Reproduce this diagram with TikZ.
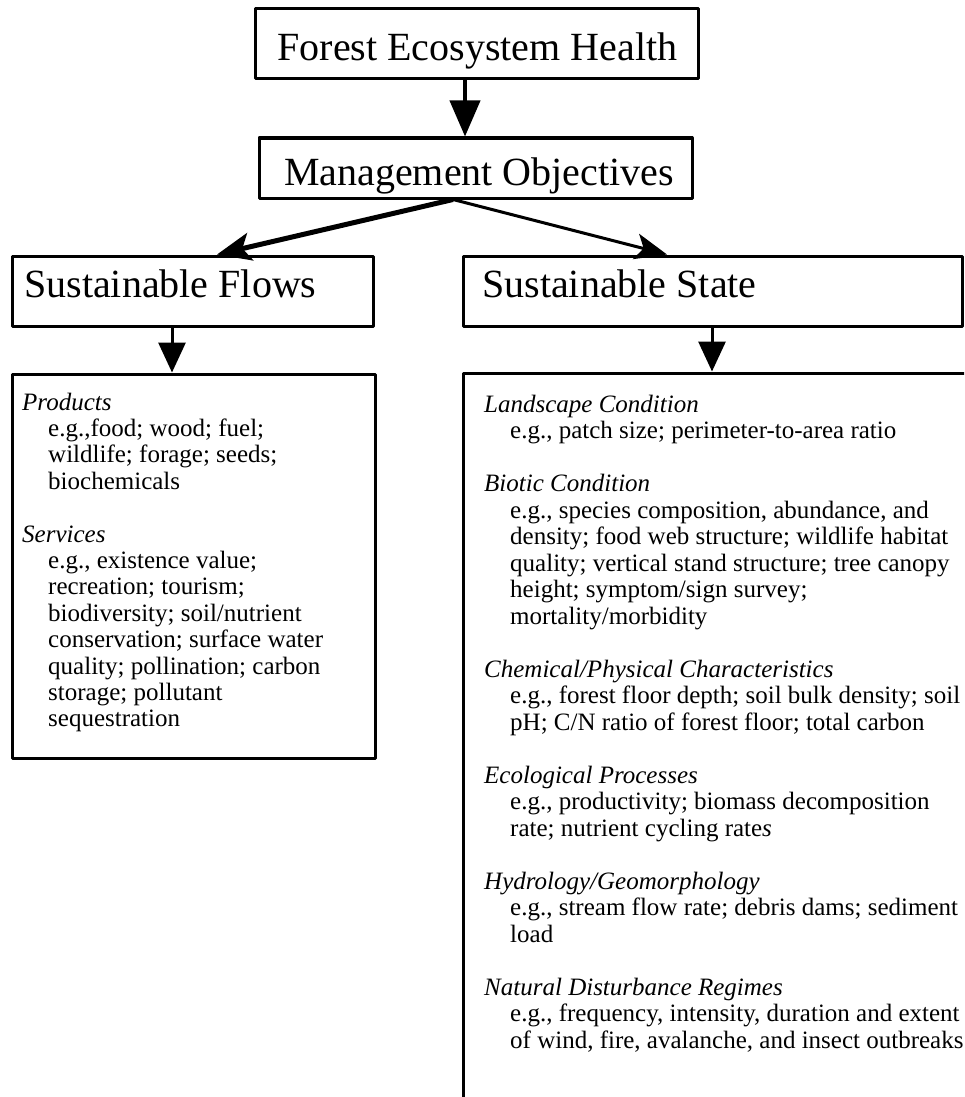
\documentclass[tikz,border=0pt]{standalone}
\usepackage{fontspec}
\setmainfont{Liberation Serif}
\usetikzlibrary{arrows.meta}
\begin{document}
\begin{tikzpicture}[x=1pt,y=-1pt,
  box/.style={draw, line width=3pt, line join=round, inner sep=0pt, fill=none},
  hd/.style={inner sep=0pt, font=\fontsize{40}{44}\selectfont},
  bt/.style={inner sep=0pt, anchor=base west, font=\fontsize{25}{26.5}\selectfont},
  it/.style={bt, font=\fontsize{25}{26.5}\selectfont\itshape},
  downarr/.style={line width=3pt, -{Triangle[length=30pt,width=27pt]}},
  toparr/.style={line width=4pt, -{Triangle[length=36pt,width=30pt]}},
  leftarr/.style={line width=5pt, -{Stealth[length=34pt,width=28pt,inset=8pt]}},
  rightarr/.style={line width=3pt, -{Stealth[length=32pt,width=26pt,inset=8pt]}}
]
\useasboundingbox (0,0) rectangle (964,1097);
\fill[white] (0,0) rectangle (964,1097);

% boxes
\node[box, minimum width=443pt, minimum height=70pt] (feh) at (476.5,44) {};
\node[box, minimum width=433pt, minimum height=60pt] (mo) at (475.5,168) {};
\node[box, minimum width=361pt, minimum height=70pt] (sf) at (192.5,291) {};
\node[box, minimum width=499pt, minimum height=70pt] (ss) at (712.5,291) {};
\node[box, minimum width=363pt, minimum height=384pt] (fd) at (193.5,566) {};
\begin{scope}
\clip (0,0) rectangle (964,1097);
\node[box, minimum width=537pt, minimum height=767pt] (sd) at (731.5,756.5) {};
\end{scope}

% heading texts
\node[hd, anchor=base] (tfeh) at (477.5,61) {Forest Ecosystem Health};
\node[hd, anchor=base] (tmo) at (479,185) {Management Objectives};
\node[hd, anchor=base west] (tsf) at (24,297) {Sustainable Flows};
\node[hd, anchor=base west] (tss) at (482,297) {Sustainable State};

% connectors
\draw[toparr] ([xshift=-11.5pt]feh.south) -- ([xshift=-10.5pt]mo.north);
\draw[leftarr] ([xshift=-22.5pt]mo.south) -- ([xshift=24.5pt]sf.north);
\draw[rightarr] ([xshift=-22.5pt]mo.south) -- ([xshift=-45.5pt]ss.north);
\draw[downarr] ([xshift=-20.5pt]sf.south) -- ([xshift=-21.5pt]fd.north);
\draw[downarr] ([xshift=-0.5pt]ss.south) -- ([xshift=-19.5pt]sd.north);

% left detail text
\node[it] (p0) at (22,410) {Products};
\node[bt] (p1) at (48,436.4) {e.g.,food; wood; fuel;};
\node[bt] (p2) at (48,462.8) {wildlife; forage; seeds;};
\node[bt] (p3) at (48,489.2) {biochemicals};
\node[it] (s0) at (22,542) {Services};
\node[bt] (s1) at (48,568.4) {e.g., existence value;};
\node[bt] (s2) at (48,594.8) {recreation; tourism;};
\node[bt] (s3) at (48,621.2) {biodiversity; soil/nutrient};
\node[bt] (s4) at (48,647.6) {conservation; surface water};
\node[bt] (s5) at (48,674) {quality; pollination; carbon};
\node[bt] (s6) at (48,700.4) {storage; pollutant};
\node[bt] (s7) at (48,726.8) {sequestration};

% right detail text
\node[it] (r0) at (484,412) {Landscape Condition};
\node[bt] (r1) at (510,438.5) {e.g., patch size; perimeter-to-area ratio};
\node[it] (r3) at (484,491.5) {Biotic Condition};
\node[bt] (r4) at (510,518) {e.g., species composition, abundance, and};
\node[bt] (r5) at (510,544.5) {density; food web structure; wildlife habitat};
\node[bt] (r6) at (510,571) {quality; vertical stand structure; tree canopy};
\node[bt] (r7) at (510,597.5) {height; symptom/sign survey;};
\node[bt] (r8) at (510,624) {mortality/morbidity};
\node[it] (r10) at (484,677) {Chemical/Physical Characteristics};
\node[bt] (r11) at (510,703.5) {e.g., forest floor depth; soil bulk density; soil};
\node[bt] (r12) at (510,730) {pH; C/N ratio of forest floor; total carbon};
\node[it] (r14) at (484,783) {Ecological Processes};
\node[bt] (r15) at (510,809.5) {e.g., productivity; biomass decomposition};
\node[bt] (r16) at (510,836) {rate; nutrient cycling rate\textit{s}};
\node[it] (r18) at (484,889) {Hydrology/Geomorphology};
\node[bt] (r19) at (510,915.5) {e.g., stream flow rate; debris dams; sediment};
\node[bt] (r20) at (510,942) {load};
\node[it] (r22) at (484,995) {Natural Disturbance Regimes};
\node[bt] (r23) at (510,1021.5) {e.g., frequency, intensity, duration and extent};
\node[bt] (r24) at (510,1048) {of wind, fire, avalanche, and insect outbreaks};
\end{tikzpicture}
\end{document}
